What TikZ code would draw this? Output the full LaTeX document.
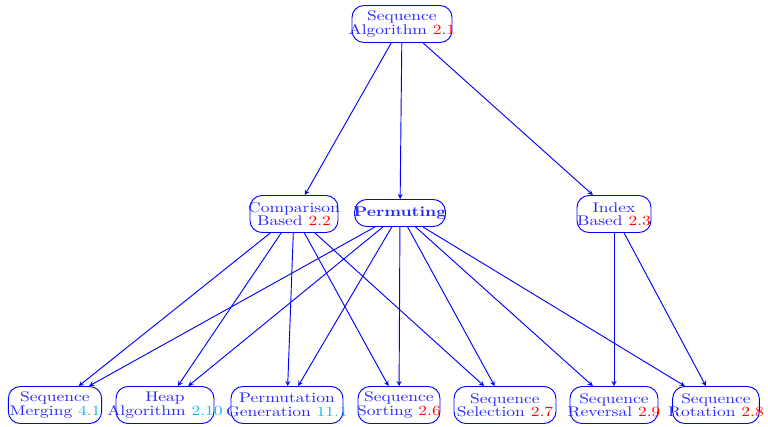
\documentclass[tikz,border=0pt]{standalone}
\usepackage{fontspec}
\setmainfont{Latin Modern Roman}[FakeStretch=1.25]
\usepackage{amsmath}
\definecolor{refcyan}{RGB}{20,185,235}
\newcommand{\secnum}[1]{\textcolor{red}{#1}}
\newcommand{\extnum}[1]{\textcolor{refcyan}{#1}}

\begin{document}
\begin{tikzpicture}[x=0.75pt,y=-0.75pt,>=stealth,line width=0.7pt,
    box/.style={draw=blue, text=blue!85!white, rounded corners=9pt, align=center,
        inner xsep=-12pt, inner ysep=0pt, minimum height=27.75pt,
        font=\fontsize{10.5}{10}\selectfont}]
        \useasboundingbox (0,0) rectangle (768,426);

        % top
        \node (algo) [box, minimum width=75pt] at (402,24) {Sequence\\Algorithm \secnum{2.1}};

        % middle row
        \node (comparison) [box, minimum width=66pt] at (294,214) {Comparison\\Based \secnum{2.2}};
        \node (permuting) [box, minimum width=68pt, minimum height=20.25pt] at (400,213) {\textbf{Permuting}};
        \node (index) [box, minimum width=55.5pt] at (614,214) {Index\\Based \secnum{2.3}};

        % bottom row
        \node (merging) [box, minimum width=70pt] at (55,405) {Sequence\\Merging \extnum{4.1}};
        \node (heap) [box, minimum width=73.5pt] at (165,405) {Heap\\Algorithm \extnum{2.10}};
        \node (permgen) [box, minimum width=84pt] at (287,405) {Permutation\\Generation \extnum{11.1}};
        \node (sorting) [box, minimum width=61.5pt] at (399,405) {Sequence\\Sorting \secnum{2.6}};
        \node (selection) [box, minimum width=76.5pt] at (505,405) {Sequence\\Selection \secnum{2.7}};
        \node (reversal) [box, minimum width=66pt] at (614,405) {Sequence\\Reversal \secnum{2.9}};
        \node (rotation) [box, minimum width=65pt] at (716,405) {Sequence\\Rotation \secnum{2.8}};

        \draw[->, blue] (algo) -- (comparison);
        \draw[->, blue] (algo) -- (permuting);
        \draw[->, blue] (algo) -- (index);

        \foreach \target in {merging, heap, permgen, sorting, selection}
            \draw[->, blue] (comparison) -- (\target);
        \foreach \target in {merging, heap, permgen, sorting, selection, reversal, rotation}
            \draw[->, blue] (permuting) -- (\target);
        \foreach \target in {reversal, rotation}
            \draw[->, blue] (index) -- (\target);
    \end{tikzpicture}
\end{document}
